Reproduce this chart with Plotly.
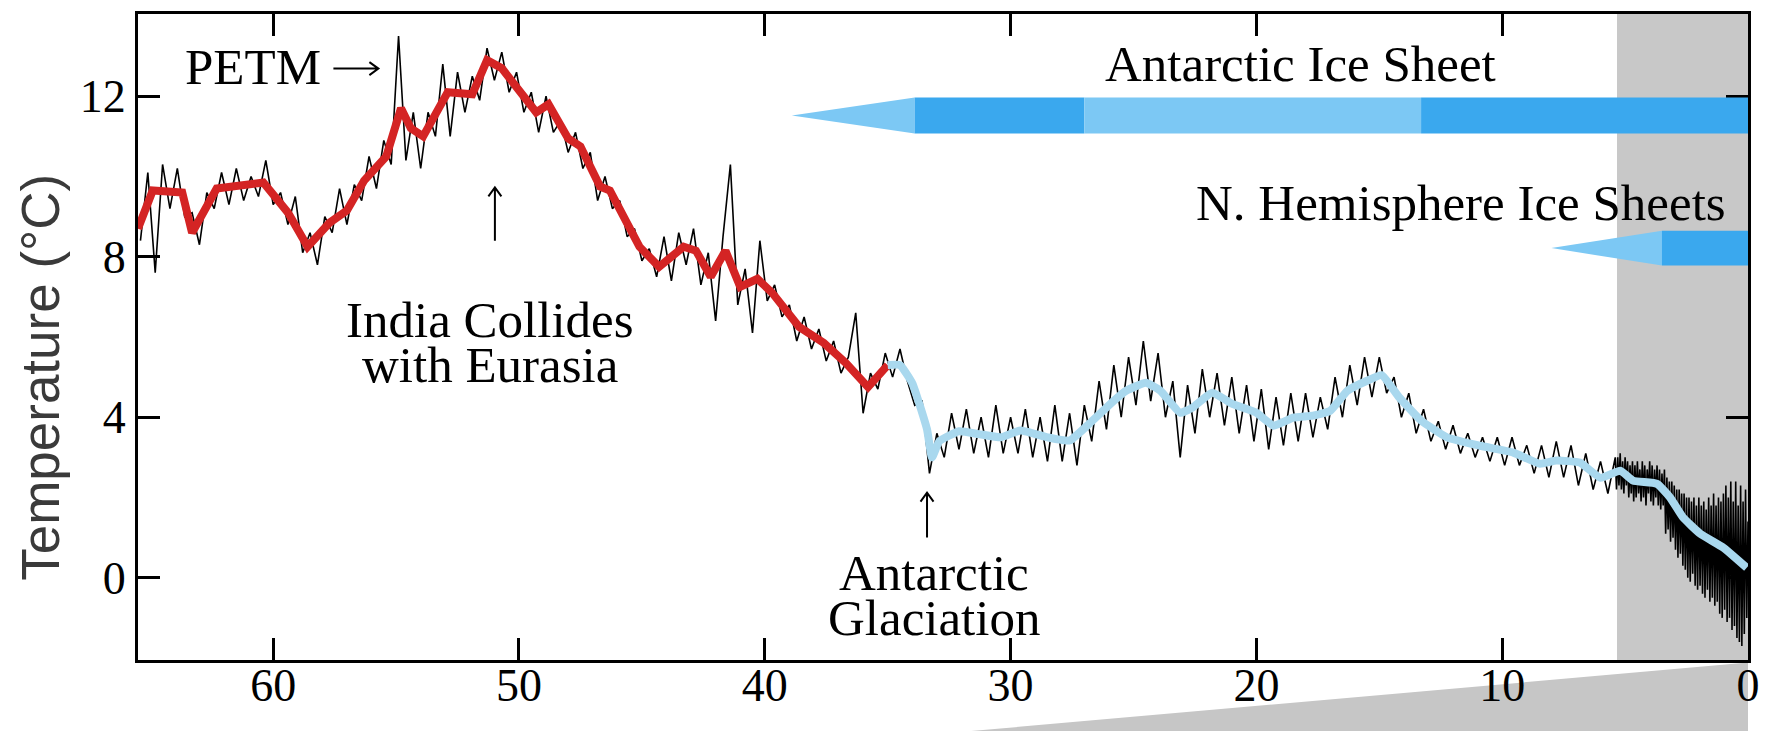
import numpy as np
import plotly.graph_objects as go

# ---------------- data ----------------
# smoothed record (red part, older than ~35 My)
red_age = [65.5, 64.9, 63.7, 63.3, 62.3, 61.4, 60.4, 59.4, 58.6, 57.7, 57.0, 56.3, 55.4, 54.8,
           54.4, 53.9, 52.9, 51.9, 51.3, 50.7, 50.0, 49.3, 48.8, 48.0, 47.5, 46.7, 46.3, 45.1,
           44.3, 43.3, 42.8, 42.2, 41.6, 41.0, 40.3, 39.7, 38.6, 37.6, 36.7, 35.8, 35.0]
red_temp = [8.7, 9.65, 9.6, 8.6, 9.7, 9.75, 9.85, 9.1, 8.25, 8.85, 9.15, 9.9, 10.5, 11.7,
            11.2, 11.0, 12.1, 12.05, 12.9, 12.7, 12.15, 11.6, 11.8, 10.95, 10.75, 9.75, 9.65, 8.25,
            7.75, 8.25, 8.15, 7.5, 8.15, 7.25, 7.45, 7.1, 6.25, 5.85, 5.35, 4.75, 5.3]

# smoothed record (light blue part, last ~35 My)
blue_age = [35.0, 34.5, 34.0, 33.4, 33.2, 32.9, 32.1, 31.3, 30.4, 29.6, 28.5, 27.6, 26.8, 25.8,
            25.3, 24.5, 23.9, 23.1, 22.6, 21.8, 21.0, 20.0, 19.3, 18.5, 17.7, 17.0, 16.3, 15.5,
            14.9, 14.2, 13.3, 12.25, 10.9, 9.55, 8.46, 7.8, 6.84, 6.0, 5.2, 4.68, 3.7, 3.17,
            2.64, 1.95, 1.0, 0.05]
blue_temp = [5.3, 5.3, 4.85, 3.7, 3.0, 3.4, 3.65, 3.58, 3.5, 3.67, 3.5, 3.42, 3.84, 4.41,
             4.66, 4.86, 4.66, 4.11, 4.24, 4.61, 4.34, 4.11, 3.79, 3.99, 4.04, 4.16, 4.66, 4.91,
             5.05, 4.5, 3.92, 3.5, 3.29, 3.12, 2.84, 2.92, 2.87, 2.49, 2.67, 2.42, 2.34, 2.0,
             1.5, 1.1, 0.75, 0.25]

# raw (unsmoothed) record, 65.4 -> 5.4 My sampled every 0.3 My
raw_old_temp = [
    8.4, 10.1, 7.6, 10.3, 9.2, 10.2, 9.0, 9.1, 8.3, 9.6,
    9.2, 10.1, 9.3, 10.2, 9.4, 10.0, 9.5, 10.4, 9.3, 9.6,
    8.8, 9.5, 8.1, 8.6, 7.8, 9.0, 8.6, 9.7, 8.8, 9.8,
    9.4, 10.5, 9.7, 10.9, 10.3, 13.5, 10.4, 11.6, 10.2, 11.6,
    11.0, 12.8, 11.0, 12.6, 11.6, 12.5, 11.9, 13.2, 12.4, 13.1,
    12.1, 12.6, 11.6, 12.1, 11.1, 12.0, 11.1, 11.4, 10.6, 11.1,
    10.2, 10.6, 9.4, 10.0, 9.2, 9.4, 8.5, 8.7, 7.9, 8.2,
    7.5, 8.5, 7.4, 8.6, 7.8, 8.7, 7.3, 8.1, 6.4, 8.5,
    10.3, 6.8, 7.7, 6.1, 8.4, 6.9, 7.3, 6.5, 6.8, 5.9,
    6.5, 5.7, 6.2, 5.4, 5.9, 5.1, 5.5, 6.6, 4.1, 5.1,
    4.7, 5.6, 5.0, 5.7, 4.9, 4.3, 4.4, 2.6, 3.6, 3.0,
    4.1, 3.2, 4.2, 3.1, 4.0, 3.0, 4.3, 3.1, 4.0, 3.1,
    4.2, 3.0, 4.0, 2.9, 4.3, 2.9, 4.1, 2.8, 4.3, 3.4,
    4.9, 3.7, 5.3, 4.0, 5.5, 4.3, 5.9, 4.4, 5.6, 4.0,
    4.9, 3.0, 4.8, 3.6, 5.2, 4.0, 5.1, 3.8, 5.0, 3.6,
    4.8, 3.4, 4.7, 3.2, 4.5, 3.3, 4.6, 3.4, 4.6, 3.5,
    4.5, 3.7, 5.0, 4.0, 5.3, 4.3, 5.5, 4.5, 5.5, 4.6,
    5.0, 4.0, 4.6, 3.6, 4.2, 3.4, 3.9, 3.2, 3.8, 3.1,
    3.6, 3.0, 3.5, 2.9, 3.5, 2.8, 3.5, 2.8, 3.3, 2.6,
    3.3, 2.5, 3.4, 2.5, 3.3, 2.3, 3.1, 2.2, 2.9, 2.1,
    3.0]
# raw record, 5.35 -> 0 My sampled every 0.05 My
raw_new_temp = [
    2.2, 3.0, 2.3, 3.1, 2.2, 2.9, 2.1, 3.0, 2.3, 2.9,
    2.0, 2.8, 2.1, 2.9, 1.9, 2.8, 2.0, 2.9, 2.1, 2.7,
    1.9, 2.9, 2.0, 2.8, 1.8, 2.7, 2.1, 2.9, 1.9, 2.8,
    1.8, 2.7, 2.0, 2.8, 1.8, 2.7, 1.7, 2.6, 1.8, 2.7,
    1.1, 2.5, 1.2, 2.4, 0.9, 2.4, 1.0, 2.3, 0.7, 2.2,
    0.5, 2.2, 0.6, 2.1, 0.3, 2.1, 0.2, 2.0, 0.0, 2.0,
    -0.1, 1.9, 0.1, 2.0, -0.2, 1.8, -0.3, 2.0, -0.2, 1.8,
    -0.4, 1.9, -0.5, 1.7, -0.3, 2.0, -0.6, 1.8, -0.5, 2.1,
    -0.7, 1.8, -0.6, 2.0, -0.9, 1.9, -1.0, 2.1, -0.8, 2.3,
    -1.1, 2.0, -1.0, 2.4, -1.3, 1.9, -1.2, 2.4, -1.5, 1.8,
    -1.6, 2.3, -1.7, 1.9, -1.4, 2.2, -1.0, 1.4]
raw_old_age = np.linspace(65.4, 5.4, len(raw_old_temp))
raw_new_age = np.linspace(5.35, 0.0, len(raw_new_temp))

# ice-sheet extents (My before present)
ais_taper = (38.9, 33.9)
ais_segments = [(33.9, 27.0, "full"), (27.0, 13.3, "partial"), (13.3, 0.0, "full")]
nh_taper = (8.0, 3.5)
nh_segments = [(3.5, 0.0, "full")]
ais_band = (11.07, 11.97)
nh_band = (7.78, 8.65)

expanded_start = 5.33     # grey shaded interval
wedge_start = 31.6

x_ticks = [60, 50, 40, 30, 20, 10, 0]
y_ticks = [0, 4, 8, 12]

# ---------------- figure ----------------
SERIF = "Liberation Serif"
DARK_BLUE = "#3aa8ee"
LIGHT_BLUE = "#7cc8f4"
PX_PER_MY = 1610 / 65.5
PX_PER_C = 646 / 16.1

fig = go.Figure()

fig.add_trace(go.Scatter(
    x=np.concatenate([raw_old_age, raw_new_age]),
    y=list(raw_old_temp) + list(raw_new_temp),
    mode="lines", line=dict(color="black", width=1.6), hoverinfo="skip", showlegend=False))
fig.add_trace(go.Scatter(x=red_age, y=red_temp, mode="lines",
                         line=dict(color="#d42424", width=8), showlegend=False))
fig.add_trace(go.Scatter(x=blue_age, y=blue_temp, mode="lines",
                         line=dict(color="#a9d8ee", width=8, shape="spline", smoothing=0.4),
                         showlegend=False))

shapes = []
# grey shaded recent interval
shapes.append(dict(type="rect", xref="x", yref="y", x0=expanded_start, x1=0, y0=-5, y1=20,
                   fillcolor="#c8c8c8", line=dict(width=0), layer="below"))
# grey wedge under the axis
shapes.append(dict(type="path", xref="x", yref="paper",
                   path=f"M {wedge_start},-0.11 L 0,-0.004 L 0,-0.14 L {wedge_start},-0.14 Z",
                   fillcolor="#c6c6c6", line=dict(width=0), layer="below"))


def bar(taper, segments, band):
    lo, hi = band
    mid = (lo + hi) / 2
    out = [dict(type="path", xref="x", yref="y",
                path=f"M {taper[0]},{mid} L {taper[1]},{hi} L {taper[1]},{lo} Z",
                fillcolor=LIGHT_BLUE, line=dict(width=0), layer="above")]
    for a0, a1, kind in segments:
        out.append(dict(type="rect", xref="x", yref="y", x0=a0, x1=a1, y0=lo, y1=hi,
                        fillcolor=DARK_BLUE if kind == "full" else LIGHT_BLUE,
                        line=dict(width=0), layer="above"))
    return out


shapes += bar(ais_taper, ais_segments, ais_band)
shapes += bar(nh_taper, nh_segments, nh_band)


def arrow(x0, y0, x1, y1):
    """Thin text-style arrow from (x0,y0) to (x1,y1) in data units."""
    dxp = (x1 - x0) * -PX_PER_MY   # reversed axis
    dyp = (y1 - y0) * PX_PER_C
    L = (dxp ** 2 + dyp ** 2) ** 0.5
    ux, uy = dxp / L, dyp / L
    hl, hw = 9, 6.5
    pts = []
    for s in (1, -1):
        bx = -ux * hl + s * (-uy) * hw
        by = -uy * hl + s * ux * hw
        pts.append((x1 - bx / PX_PER_MY, y1 + by / PX_PER_C))
    path = (f"M {x0},{y0} L {x1},{y1} M {pts[0][0]},{pts[0][1]} L {x1},{y1} "
            f"L {pts[1][0]},{pts[1][1]}")
    return dict(type="path", xref="x", yref="y", path=path,
                line=dict(color="black", width=2), layer="above")


shapes.append(arrow(57.55, 12.69, 55.72, 12.69))   # PETM ->
shapes.append(arrow(50.98, 8.40, 50.98, 9.73))     # India up arrow
shapes.append(arrow(33.4, 1.0, 33.4, 2.12))        # glaciation up arrow

ann_font = dict(family=SERIF, size=51, color="black")
annotations = [
    dict(x=57.97, y=12.72, text="PETM", xanchor="right"),
    dict(x=51.2, y=6.42, text="India Collides"),
    dict(x=51.2, y=5.3, text="with Eurasia"),
    dict(x=18.2, y=12.8, text="Antarctic Ice Sheet"),
    dict(x=0.8, y=9.33, text="N. Hemisphere Ice Sheets", xanchor="right"),
    dict(x=33.1, y=0.12, text="Antarctic"),
    dict(x=33.1, y=-1.0, text="Glaciation"),
]
for a in annotations:
    a.setdefault("xanchor", "center")
    a.update(xref="x", yref="y", showarrow=False, font=ann_font, yanchor="middle")

annotations.append(dict(xref="paper", yref="paper", x=-0.061, y=0.438, text="Temperature (°C)",
                        textangle=-90, showarrow=False, xanchor="center", yanchor="middle",
                        font=dict(family="Liberation Sans", size=53, color="#3a3a3a")))

axis_common = dict(showline=True, linecolor="black", linewidth=3, mirror="ticks",
                   ticks="inside", ticklen=22, tickwidth=2.5, tickcolor="black",
                   showgrid=False, zeroline=False, automargin=False,
                   tickfont=dict(family=SERIF, size=46, color="black"))

# the page body has an 8 px default margin, so the figure margins are
# reduced by 8 px on the top/left to place the plot area where intended
fig.update_layout(
    width=1773, height=731,
    margin=dict(l=130, r=33, t=6, b=79),
    paper_bgcolor="white", plot_bgcolor="rgba(0,0,0,0)",
    shapes=shapes, annotations=annotations,
    xaxis=dict(range=[65.5, 0], tickvals=x_ticks, ticktext=[str(t) for t in x_ticks],
               ticklabelstandoff=-17, **axis_common),
    yaxis=dict(range=[-2.05, 14.05], tickvals=y_ticks, ticktext=[str(t) for t in y_ticks],
               ticklabelstandoff=0, **axis_common),
    showlegend=False,
)

fig.write_html("out.html")
